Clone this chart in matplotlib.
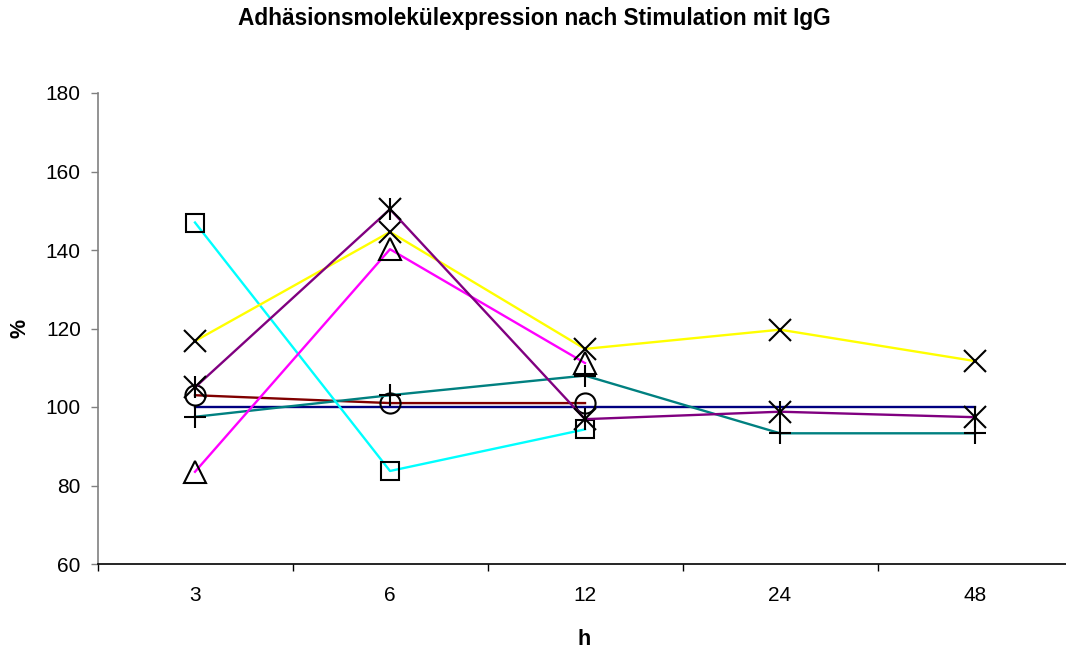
import matplotlib.pyplot as plt

plt.rcParams["font.family"] = ["Liberation Sans", "DejaVu Sans"]

hours = ["3", "6", "12", "24", "48"]

# values in %
navy_vals = [100, 100, 100, 100, 100]
brown_vals = [103, 101, 101]
teal_vals = [97.5, 103, 108, 93.3, 93.3]
cyan_vals = [147, 83.7, 94.3]
magenta_vals = [83.5, 140.2, 111.2]
yellow_vals = [116.8, 144.6, 114.8, 119.7, 111.7]
purple_vals = [105, 150.4, 96.9, 98.8, 97.4]

fig = plt.figure(figsize=(10.66, 6.48), dpi=100)
ax = fig.add_axes([97.5 / 1066, 84 / 648, 975 / 1066, 471 / 648])

def pos(vals):
    return list(range(len(vals)))

mk = dict(mec="black", mfc="none", mew=1.5)
lw = 1.7

ax.plot(pos(navy_vals), navy_vals, color="#000080", lw=lw)
ax.plot(pos(brown_vals), brown_vals, color="#800000", lw=lw, marker="o", ms=14.5, **mk)
ax.plot(pos(teal_vals), teal_vals, color="#008080", lw=lw, marker="+", ms=15.5, **mk)
ax.plot(pos(cyan_vals), cyan_vals, color="#00FFFF", lw=lw, marker="s", ms=13, **mk)
ax.plot(pos(magenta_vals), magenta_vals, color="#FF00FF", lw=lw, marker="^", ms=15.5, **mk)
ax.plot(pos(yellow_vals), yellow_vals, color="#FFFF00", lw=lw, marker="x", ms=15.5, **mk)
ax.plot(pos(purple_vals), purple_vals, color="#800080", lw=lw, marker="x", ms=15.5, **mk)
# star marker = x plus a vertical bar
ax.plot(pos(purple_vals), purple_vals, ls="none", marker="|", ms=15.5, **mk)

ax.set_xlim(-0.5, 4.5)
ax.set_ylim(60, 180)
ax.set_yticks(range(60, 181, 20))
ax.set_xticks(range(len(hours)))
ax.set_xticklabels(hours)
ax.set_xticks([i - 0.5 for i in range(len(hours) + 1)], minor=True)
ax.tick_params(axis="x", which="major", length=0, pad=16, labelsize=15)
ax.tick_params(axis="x", which="minor", length=5, width=1, direction="out")
ax.tick_params(axis="y", length=5, width=1, direction="out", pad=7, labelsize=15, color="#808080")

for s in ["top", "right"]:
    ax.spines[s].set_visible(False)
ax.spines["left"].set_color("#808080")
ax.spines["left"].set_linewidth(1.2)
ax.spines["bottom"].set_linewidth(1.2)

fig.text(534 / 1066, 1 - 25 / 648, "Adhäsionsmolekülexpression nach Stimulation mit IgG",
         ha="center", va="baseline", fontsize=16.3, fontweight="bold")
fig.text(584 / 1066, 1 - 645 / 648, "h", ha="center", va="baseline", fontsize=15.5, fontweight="bold")
fig.text(19.5 / 1066, 1 - 328 / 648, "%", ha="center", va="center", rotation=90, fontsize=15.5, fontweight="bold")

fig.savefig("out.png", dpi=100)
